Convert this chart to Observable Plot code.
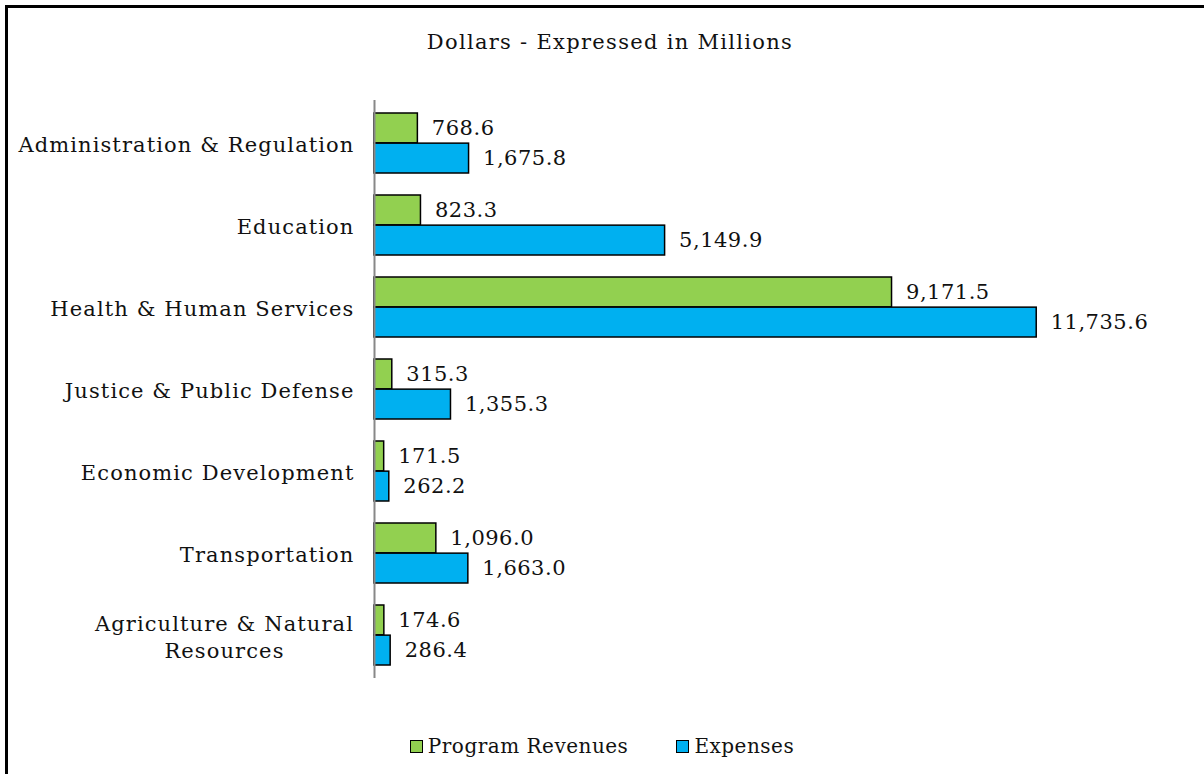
<!DOCTYPE html>
<html>
<head>
<meta charset="utf-8">
<script src="https://cdn.jsdelivr.net/npm/d3@7"></script>
<script src="https://cdn.jsdelivr.net/npm/@observablehq/plot@0.6"></script>
<style>
  html, body { margin: 0; padding: 0; background: #fff; }
  body { width: 1204px; height: 774px; overflow: hidden; position: relative; font-family: "DejaVu Serif", serif; }
  #frame { position: absolute; left: 5px; top: 5px; width: 1220px; height: 790px; border: 3px solid #000; box-sizing: border-box; }
  #title { position: absolute; left: 0; top: 30px; width: 1220px; text-align: center; font-size: 21px; letter-spacing: 1.3px; color: #111; }
  #chart { position: absolute; left: 0; top: 80px; }
  #chart g[aria-label="y-axis tick label"] text { letter-spacing: 1.1px; }
  #chart g[aria-label="text"] text { letter-spacing: 0.5px; }
  #legend { position: absolute; left: 0; top: 734px; width: 1204px; display: flex; justify-content: center; gap: 48px; font-size: 20px; letter-spacing: 0.5px; color: #111; }
  .item { display: flex; align-items: center; gap: 5px; }
  .sw { width: 11px; height: 11px; border: 1.5px solid #000; }
</style>
</head>
<body>
<div id="frame"></div>
<div id="title">Dollars - Expressed in Millions</div>
<div id="chart"></div>
<div id="legend"></div>
<script>
const categories = [
  "Administration & Regulation",
  "Education",
  "Health & Human Services",
  "Justice & Public Defense",
  "Economic Development",
  "Transportation",
  "Agriculture & Natural Resources"
];
const programRevenues = [768.6, 823.3, 9171.5, 315.3, 171.5, 1096.0, 174.6];
const expenses = [1675.8, 5149.9, 11735.6, 1355.3, 262.2, 1663.0, 286.4];
const seriesNames = ["Program Revenues", "Expenses"];
const seriesColors = ["#92D050", "#00B0F0"];

const revData = categories.map((c, i) => ({category: c, series: seriesNames[0], value: programRevenues[i]}));
const expData = categories.map((c, i) => ({category: c, series: seriesNames[1], value: expenses[i]}));

const W = 1204, H = 620, mTop = 20, mBottom = 22, mLeft = 374, mRight = 40;
const pad = 0.27;
const step = (H - mTop - mBottom) / categories.length;
const bw = step * (1 - pad);
const half = bw / 2;
const fmt = d3.format(",.1f");
const labelFor = c => c === "Agriculture & Natural Resources" ? "Agriculture & Natural\nResources" : c;

const chart = Plot.plot({
  width: W, height: H,
  marginTop: mTop, marginBottom: mBottom, marginLeft: mLeft, marginRight: mRight,
  style: {fontFamily: "DejaVu Serif, serif", fontSize: "21px", color: "#111", background: "transparent"},
  x: {domain: [0, 14000], axis: null},
  y: {domain: categories, paddingInner: pad, paddingOuter: pad / 2, label: null},
  marks: [
    Plot.barX(revData, {x: "value", y: "category", fill: seriesColors[0], stroke: "#000", strokeWidth: 1.5, insetBottom: half}),
    Plot.barX(expData, {x: "value", y: "category", fill: seriesColors[1], stroke: "#000", strokeWidth: 1.5, insetTop: half}),
    Plot.text(revData, {x: "value", y: "category", text: d => fmt(d.value), dx: 14, dy: -half / 2, textAnchor: "start", fontSize: 21, fill: "#111"}),
    Plot.text(expData, {x: "value", y: "category", text: d => fmt(d.value), dx: 14, dy: half / 2, textAnchor: "start", fontSize: 21, fill: "#111"}),
    Plot.ruleX([0], {stroke: "#888", strokeWidth: 2}),
    Plot.axisY({tickSize: 0, tickPadding: 20, tickFormat: labelFor, fontSize: 21, lineHeight: 1.3, label: null})
  ]
});
document.getElementById("chart").appendChild(chart);

// center multi-line label block
chart.querySelectorAll("text").forEach(t => {
  if (t.querySelectorAll("tspan").length > 1) {
    const bb = t.getBBox();
    t.setAttribute("text-anchor", "middle");
    const tr = t.getAttribute("transform") || "";
    t.setAttribute("transform", tr + ` translate(${-bb.width / 2},0)`);
  }
});

const legend = document.getElementById("legend");
seriesNames.forEach((s, i) => {
  const it = document.createElement("div");
  it.className = "item";
  const sw = document.createElement("div");
  sw.className = "sw";
  sw.style.background = seriesColors[i];
  const lb = document.createElement("span");
  lb.textContent = s;
  it.appendChild(sw); it.appendChild(lb);
  legend.appendChild(it);
});
</script>
</body>
</html>
